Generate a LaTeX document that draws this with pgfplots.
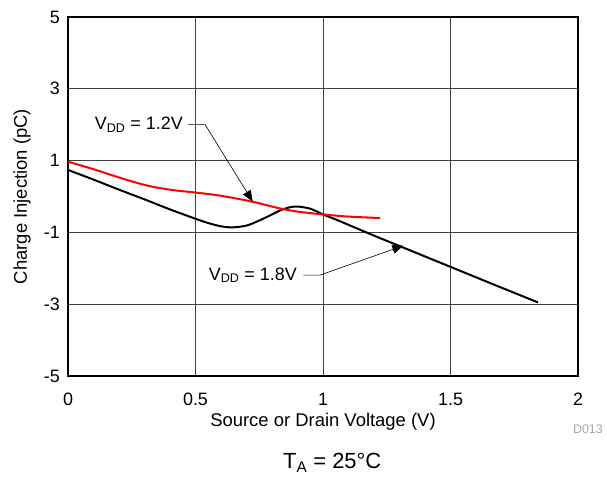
\documentclass[border=0pt]{standalone}
\usepackage{fontspec}
\setmainfont{Liberation Sans}
\usepackage{pgfplots}
\pgfplotsset{compat=1.18}
\usetikzlibrary{arrows.meta}
\begin{document}
\begin{tikzpicture}[x=1bp,y=1bp]
\path[use as bounding box] (-68,-102) rectangle (539,376);
\begin{axis}[
  at={(0,0)}, anchor=south west,
  scale only axis, width=510bp, height=359bp,
  xmin=0, xmax=2, ymin=-5, ymax=5,
  xtick={0,0.5,1,1.5,2}, ytick={-5,-3,-1,1,3,5},
  xticklabels={0,0.5,1,1.5,2}, yticklabels={-5,-3,-1,1,3,5},
  grid=major, major grid style={line width=0.8bp, black!75},
  axis line style={line width=2bp, black},
  tick style={draw=none},
  tick label style={font=\fontsize{18}{20}\selectfont},
  /pgf/number format/assume math mode=true,
  xticklabel style={anchor=north, inner sep=0pt, yshift=-17bp},
  yticklabel style={anchor=east, inner sep=0pt, xshift=-8bp},
  xlabel={Source or Drain Voltage (V)},
  ylabel={Charge Injection (pC)},
  label style={font=\fontsize{18.5}{20}\selectfont},
  xlabel style={at={(axis description cs:0.5,0)}, anchor=center, yshift=-46bp},
  ylabel style={at={(axis description cs:0,0.5)}, anchor=center, yshift=46bp},
  clip=false,
]
\addplot[black, line width=2bp, smooth, tension=0.5] coordinates {
(0,0.74) (0.1,0.47) (0.2,0.19) (0.3,-0.08) (0.4,-0.36) (0.5,-0.62) (0.55,-0.74) (0.6,-0.83) (0.645,-0.86) (0.7,-0.81) (0.75,-0.67) (0.8,-0.5) (0.835,-0.38) (0.87,-0.3) (0.9,-0.28) (0.95,-0.34) (1.0,-0.5) (1.05,-0.64) (1.1,-0.79) (1.2,-1.09) (1.3,-1.38) (1.4,-1.67) (1.5,-1.96) (1.6,-2.25) (1.7,-2.54) (1.843,-2.95)
};
\addplot[red, line width=2bp, smooth, tension=0.5] coordinates {
(0,0.97) (0.1,0.76) (0.2,0.53) (0.28,0.36) (0.34,0.26) (0.42,0.17) (0.5,0.11) (0.6,0.02) (0.72,-0.14) (0.83,-0.33) (0.9,-0.42) (1.0,-0.5) (1.1,-0.56) (1.224,-0.6)
};
\node[anchor=east, font=\fontsize{18}{20}\selectfont, inner sep=0pt] at (axis cs:0.451,1.99) {V\textsubscript{DD} = 1.2V};
\draw[line width=0.6bp, -{Triangle[length=11bp,width=9bp]}] (axis cs:0.47,2.01) -- (axis cs:0.537,2.01) -- (axis cs:0.724,-0.14);
\node[anchor=east, font=\fontsize{18}{20}\selectfont, inner sep=0pt] at (axis cs:0.898,-2.19) {V\textsubscript{DD} = 1.8V};
\draw[line width=0.6bp, -{Triangle[length=11bp,width=9bp]}] (axis cs:0.923,-2.19) -- (axis cs:0.988,-2.19) -- (axis cs:1.315,-1.37);
\node[anchor=base east, font=\fontsize{12.5}{14}\selectfont, text=black!35, inner sep=0pt] at (axis cs:2.098,-6.59) {D013};
\node[anchor=base west, font=\fontsize{22}{24}\selectfont, inner sep=0pt] at (axis cs:0.843,-7.59) {T\textsubscript{A} = 25°C};
\end{axis}
\end{tikzpicture}
\end{document}
